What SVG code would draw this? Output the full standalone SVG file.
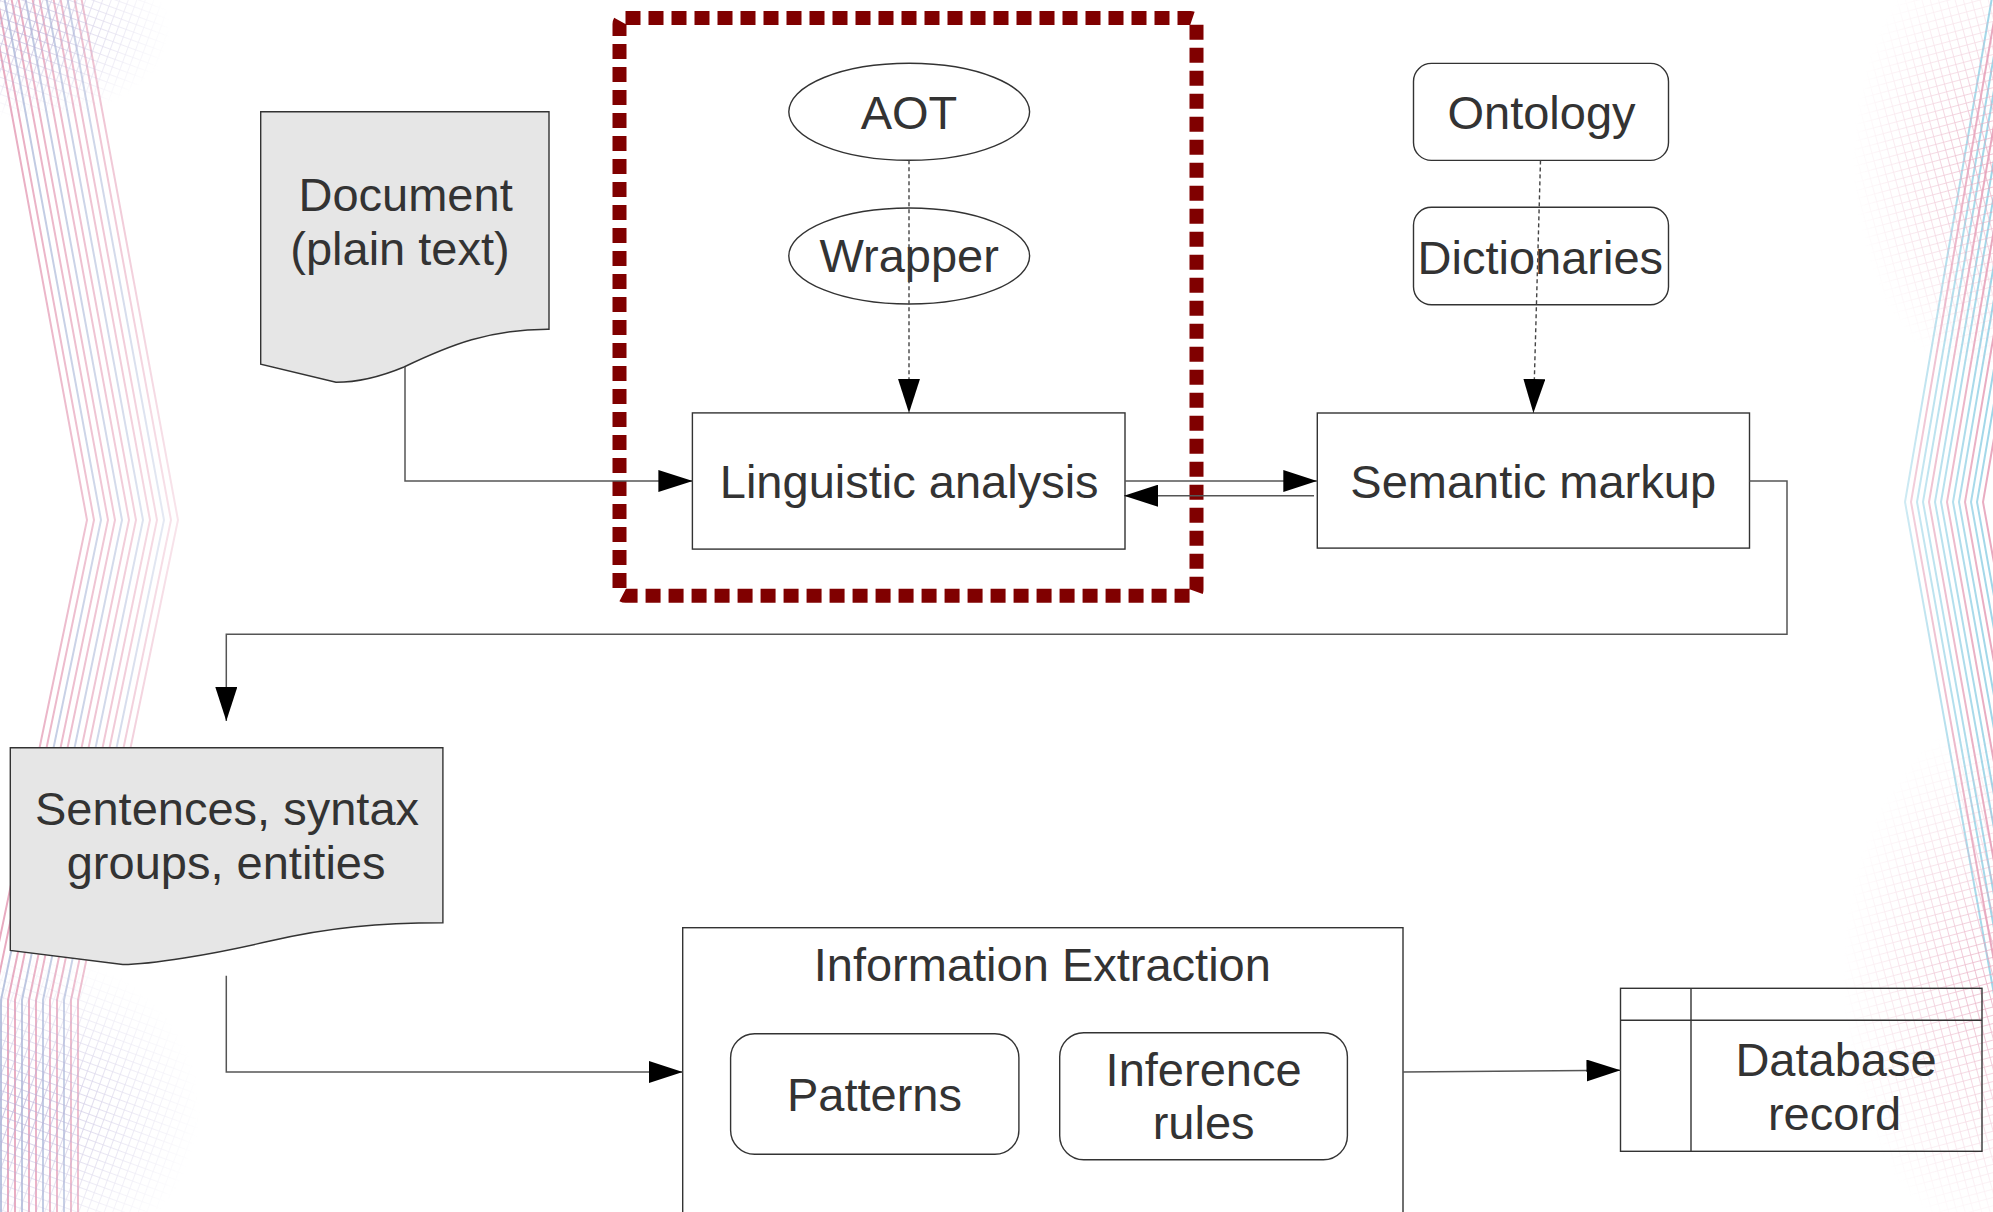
<svg xmlns="http://www.w3.org/2000/svg" width="1993" height="1212" viewBox="0 0 1993 1212">
<style>
.t{font-family:"Liberation Sans",Arial,sans-serif;font-size:47px;fill:#333333;text-anchor:middle}
.box{fill:#ffffff;stroke:#333333;stroke-width:1.4}
.doc{fill:#e6e6e6;stroke:#333333;stroke-width:1.4}
.con{fill:none;stroke:#555555;stroke-width:1.5}
.dot{fill:none;stroke:#444444;stroke-width:1.4;stroke-dasharray:4 3}
.bgp{fill:none;stroke:#e8a9bf;stroke-width:2}
.bgb{fill:none;stroke:#b9c4df;stroke-width:2}
.bgc{fill:none;stroke:#9fd6e8;stroke-width:2}
</style>
<defs>
<marker id="arr" markerUnits="userSpaceOnUse" markerWidth="34" markerHeight="22" refX="34" refY="11" orient="auto">
<path d="M0,0 L34,11 L0,22 z" fill="#000000"/>
</marker>
<linearGradient id="fadeL" x1="0" y1="0" x2="1" y2="0">
<stop offset="0" stop-color="#fff" stop-opacity="1"/>
<stop offset="0.5" stop-color="#fff" stop-opacity="0.6"/>
<stop offset="1" stop-color="#fff" stop-opacity="0"/>
</linearGradient>
<linearGradient id="fadeR" x1="1" y1="0" x2="0" y2="0">
<stop offset="0" stop-color="#fff" stop-opacity="1"/>
<stop offset="0.5" stop-color="#fff" stop-opacity="0.6"/>
<stop offset="1" stop-color="#fff" stop-opacity="0"/>
</linearGradient>
<mask id="mL" maskUnits="userSpaceOnUse" x="0" y="0" width="400" height="1212">
<rect x="0" y="0" width="240" height="1212" fill="url(#fadeL)"/>
</mask>
<mask id="mR" maskUnits="userSpaceOnUse" x="1700" y="0" width="293" height="1212">
<rect x="1840" y="0" width="153" height="1212" fill="url(#fadeR)"/>
</mask>
<pattern id="grid" width="8" height="8" patternUnits="userSpaceOnUse" patternTransform="rotate(20)">
<path d="M0,0 H8 M0,0 V8" stroke="#b8b0d8" stroke-width="1.6" fill="none"/>
</pattern>
<pattern id="gridp" width="8" height="8" patternUnits="userSpaceOnUse" patternTransform="rotate(-15)">
<path d="M0,0 H8 M0,0 V8" stroke="#e6a3bb" stroke-width="1.6" fill="none"/>
</pattern>
<radialGradient id="rg">
<stop offset="0" stop-color="#fff" stop-opacity="0.9"/>
<stop offset="1" stop-color="#fff" stop-opacity="0"/>
</radialGradient>
<mask id="mTL" maskUnits="userSpaceOnUse" x="-150" y="-150" width="400" height="300"><ellipse cx="30" cy="30" rx="140" ry="90" fill="url(#rg)"/></mask>
<mask id="mBL" maskUnits="userSpaceOnUse" x="-200" y="850" width="450" height="400"><ellipse cx="20" cy="1110" rx="180" ry="160" fill="url(#rg)"/></mask>
<mask id="mTR" maskUnits="userSpaceOnUse" x="1750" y="-100" width="300" height="500"><ellipse cx="1993" cy="160" rx="140" ry="220" fill="url(#rg)"/></mask>
<mask id="mBR" maskUnits="userSpaceOnUse" x="1750" y="700" width="300" height="520"><ellipse cx="1993" cy="980" rx="150" ry="260" fill="url(#rg)"/></mask>
</defs>

<g id="background">
<rect x="0" y="0" width="1993" height="1212" fill="#ffffff"/>
<g mask="url(#mL)">
<polyline class="bgp" points="-13,-20 87,520 -13,1000 -13,1212"/>
<polyline class="bgp" points="-6,-20 94,520 -6,1000 -6,1212"/>
<polyline class="bgb" points="1,-20 101,520 1,1000 1,1212"/>
<polyline class="bgp" points="8,-20 108,520 8,1000 8,1212"/>
<polyline class="bgp" points="15,-20 115,520 15,1000 15,1212"/>
<polyline class="bgb" points="22,-20 122,520 22,1000 22,1212"/>
<polyline class="bgp" points="29,-20 129,520 29,1000 29,1212"/>
<polyline class="bgp" points="36,-20 136,520 36,1000 36,1212"/>
<polyline class="bgb" points="43,-20 143,520 43,1000 43,1212"/>
<polyline class="bgp" points="50,-20 150,520 50,1000 50,1212"/>
<polyline class="bgp" points="57,-20 157,520 57,1000 57,1212"/>
<polyline class="bgb" points="64,-20 164,520 64,1000 64,1212"/>
<polyline class="bgp" points="71,-20 171,520 71,1000 71,1212"/>
<polyline class="bgp" points="78,-20 178,520 78,1000 78,1212"/>
</g>
<g mask="url(#mR)">
<polyline class="bgc" points="1995,-20 1905,502 1995,1000"/>
<polyline class="bgp" points="2001,-20 1911,502 2001,1000"/>
<polyline class="bgc" points="2007,-20 1917,502 2007,1000"/>
<polyline class="bgc" points="2013,-20 1923,502 2013,1000"/>
<polyline class="bgp" points="2019,-20 1929,502 2019,1000"/>
<polyline class="bgc" points="2025,-20 1935,502 2025,1000"/>
<polyline class="bgc" points="2031,-20 1941,502 2031,1000"/>
<polyline class="bgp" points="2037,-20 1947,502 2037,1000"/>
<polyline class="bgc" points="2043,-20 1953,502 2043,1000"/>
<polyline class="bgc" points="2049,-20 1959,502 2049,1000"/>
<polyline class="bgp" points="2055,-20 1965,502 2055,1000"/>
<polyline class="bgc" points="2061,-20 1971,502 2061,1000"/>
<polyline class="bgc" points="2067,-20 1977,502 2067,1000"/>
<polyline class="bgp" points="2073,-20 1983,502 2073,1000"/>
</g>
<rect x="-150" y="-150" width="400" height="300" fill="url(#grid)" mask="url(#mTL)"/>
<rect x="-200" y="850" width="450" height="400" fill="url(#grid)" mask="url(#mBL)"/>
<rect x="1750" y="-100" width="300" height="500" fill="url(#gridp)" mask="url(#mTR)"/>
<rect x="1750" y="700" width="300" height="520" fill="url(#gridp)" mask="url(#mBR)"/>
</g>

<g id="linguistic-frame">
<rect x="619.5" y="18" width="577" height="577.7" rx="6" fill="none" stroke="#800000" stroke-width="14" stroke-dasharray="15 8"/>
</g>

<g id="document">
<path class="doc" d="M260.7,111.7 H549 V329.3 C490,329 450,345 404,367 C380,377 355,382.3 336,382.3 L260.7,364.3 Z"/>
<text class="t" x="405.6" y="210.7">Document</text>
<text class="t" x="400" y="265">(plain text)</text>
</g>

<g id="aot">
<ellipse class="box" cx="909.2" cy="111.8" rx="120.4" ry="48.5"/>
<text class="t" x="909" y="128.7">AOT</text>
</g>

<g id="wrapper">
<ellipse class="box" cx="909.2" cy="256" rx="120.4" ry="48"/>
<text class="t" x="909.2" y="272.4">Wrapper</text>
</g>

<g id="linguistic-analysis">
<rect class="box" x="692.4" y="412.9" width="432.6" height="136.2"/>
<text class="t" x="909.2" y="497.6">Linguistic analysis</text>
</g>

<g id="ontology">
<rect class="box" x="1413.5" y="63.4" width="255" height="97" rx="18"/>
<text class="t" x="1541.5" y="128.5">Ontology</text>
</g>

<g id="dictionaries">
<rect class="box" x="1413.5" y="207.3" width="255" height="97.4" rx="18"/>
<text class="t" x="1540.3" y="273.6">Dictionaries</text>
</g>

<g id="semantic-markup">
<rect class="box" x="1317.3" y="413" width="432.2" height="135.1"/>
<text class="t" x="1533.2" y="497.5">Semantic markup</text>
</g>

<g id="sentences">
<path class="doc" d="M10.3,747.7 H442.9 V922.7 C380,923 330,927 270,941 C210,955 150,964.5 122.8,964.5 L10.3,950.4 Z"/>
<text class="t" x="227" y="824.6">Sentences, syntax</text>
<text class="t" x="226.1" y="878.5">groups, entities</text>
</g>

<g id="information-extraction">
<rect class="box" x="682.7" y="927.7" width="720.3" height="320"/>
<text class="t" x="1042.3" y="980.7">Information Extraction</text>
</g>

<g id="patterns">
<rect class="box" x="730.6" y="1033.7" width="288.3" height="120.6" rx="24"/>
<text class="t" x="874.5" y="1110.7">Patterns</text>
</g>

<g id="inference-rules">
<rect class="box" x="1059.7" y="1032.7" width="287.7" height="127" rx="24"/>
<text class="t" x="1203.6" y="1085.7">Inference</text>
<text class="t" x="1203.6" y="1139.3">rules</text>
</g>

<g id="database-record">
<rect x="1620.5" y="988.3" width="361.5" height="163" fill="none" stroke="#333333" stroke-width="1.4"/>
<line x1="1691" y1="988.3" x2="1691" y2="1151.3" stroke="#333333" stroke-width="1.4"/>
<line x1="1620.5" y1="1020.3" x2="1982" y2="1020.3" stroke="#333333" stroke-width="1.4"/>
<text class="t" x="1836" y="1075.7">Database</text>
<text class="t" x="1834.6" y="1130">record</text>
</g>

<g id="connectors">
<path class="con" d="M405,367 V481 H692.4" marker-end="url(#arr)"/>
<path class="dot" d="M909,160.3 V412.9" marker-end="url(#arr)"/>
<path class="dot" d="M1540.5,160.4 L1533.4,413" marker-end="url(#arr)"/>
<path class="con" d="M1125,481 H1317.3" marker-end="url(#arr)"/>
<path class="con" d="M1314,495.7 H1124" marker-end="url(#arr)"/>
<path class="con" d="M1749.5,481 H1787 V634.3 H226.3 V721" marker-end="url(#arr)"/>
<path class="con" d="M226.3,975.8 V1072 H682.7" marker-end="url(#arr)"/>
<path class="con" d="M1403,1072 L1620.5,1070.3" marker-end="url(#arr)"/>
</g>
</svg>
